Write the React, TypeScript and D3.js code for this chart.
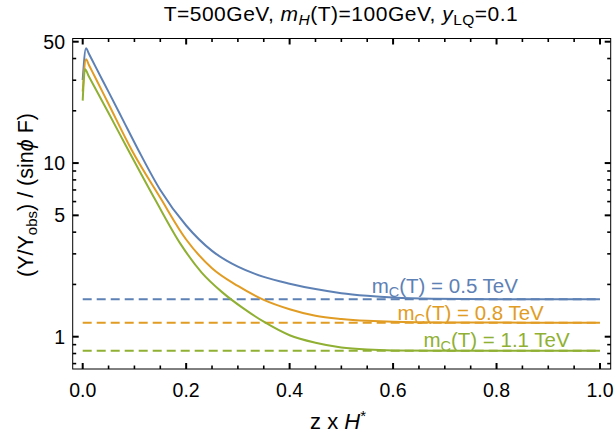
import { line, scaleLinear, scaleLog, curveMonotoneX } from "d3";

const blueX = [0, 0.0064, 0.012, 0.025, 0.05, 0.075, 0.1075, 0.15, 0.2, 0.25, 0.3, 0.35, 0.4, 0.45, 0.5, 0.55, 0.6, 0.675, 0.8, 1.0];
const blueY = [30.1, 45.9, 42.6, 35.8, 25.7, 18.4, 11.9, 7.0, 4.37, 3.12, 2.53, 2.21, 2.02, 1.88, 1.78, 1.72, 1.68, 1.654, 1.644, 1.642];
const orangeX = [0, 0.0064, 0.012, 0.025, 0.05, 0.0947, 0.15, 0.2, 0.25, 0.3, 0.35, 0.4, 0.45, 0.5, 0.55, 0.6, 0.7, 0.85, 1.0];
const orangeY = [25.8, 39.6, 36.7, 30.8, 21.9, 11.9, 6.31, 3.63, 2.48, 1.96, 1.63, 1.44, 1.32, 1.265, 1.234, 1.218, 1.208, 1.205, 1.204];
const greenX = [0, 0.0045, 0.012, 0.025, 0.05, 0.088, 0.14, 0.19, 0.23, 0.27, 0.31, 0.35, 0.4, 0.45, 0.5, 0.55, 0.6, 0.7, 1.0];
const greenY = [22.9, 34.7, 31.5, 26.7, 19.4, 11.9, 6.17, 3.39, 2.34, 1.8, 1.46, 1.22, 1.02, 0.923, 0.867, 0.843, 0.834, 0.831, 0.831];

const asymptotes = [1.642, 1.204, 0.831];
const colors = ["#5E81B5", "#E19C24", "#8FB032"];
const labelValues = ["0.5", "0.8", "1.1"];
const labelX = [0.7, 0.75, 0.8];
const labelY = [1.78, 1.25, 0.87];

const xMajor = [0, 0.2, 0.4, 0.6, 0.8, 1.0];
const xMinor = [0.05, 0.1, 0.15, 0.25, 0.3, 0.35, 0.45, 0.5, 0.55, 0.65, 0.7, 0.75, 0.85, 0.9, 0.95];
const yMajor = [1, 5, 10, 50];
const yMinor = [0.7, 0.8, 0.9, 2, 3, 4, 6, 7, 8, 9, 20, 30, 40];

const W = 616;
const H = 434;
const frame = { left: 72.7, right: 610.7, top: 38.5, bottom: 369 };

export default function App() {
  const x = scaleLinear().domain([0, 1]).range([82.7, 600]);
  const y = scaleLog().domain([1, 50]).range([336.7, 41.7]);

  const series = [
    { xs: blueX, ys: blueY },
    { xs: orangeX, ys: orangeY },
    { xs: greenX, ys: greenY },
  ];

  const path = line<[number, number]>()
    .x((d) => x(d[0]))
    .y((d) => y(d[1]))
    .curve(curveMonotoneX);

  const font = "Liberation Sans, Arial, sans-serif";

  return (
    <svg width={W} height={H} style={{ position: "absolute", left: 0, top: 0, background: "#fff" }}>
      <defs>
        <clipPath id="plot">
          <rect x={frame.left} y={frame.top} width={frame.right - frame.left} height={frame.bottom - frame.top} />
        </clipPath>
      </defs>

      <g clipPath="url(#plot)">
        {asymptotes.map((a, i) => (
          <line
            key={`dash-${i}`}
            x1={x(0)}
            x2={x(1)}
            y1={y(a)}
            y2={y(a)}
            stroke={colors[i]}
            strokeWidth={2}
            strokeDasharray="9,5"
          />
        ))}
        {series.map((s, i) => (
          <path
            key={`line-${i}`}
            d={path(s.xs.map((v, j) => [v, s.ys[j]] as [number, number])) || ""}
            fill="none"
            stroke={colors[i]}
            strokeWidth={2}
          />
        ))}
      </g>

      {labelValues.map((v, i) => (
        <text
          key={`lab-${i}`}
          x={x(labelX[i])}
          y={y(labelY[i])}
          textAnchor="middle"
          fontFamily={font}
          fontSize={20.5}
          fill={colors[i]}
        >
          m<tspan fontSize={14.5} dy={4}>C</tspan>
          <tspan dy={-4}>(T) = {v} TeV</tspan>
        </text>
      ))}

      {/* frame */}
      <rect
        x={frame.left}
        y={frame.top}
        width={frame.right - frame.left}
        height={frame.bottom - frame.top}
        fill="none"
        stroke="#000"
        strokeWidth={1}
      />

      {/* x ticks, bottom and top */}
      {xMajor.map((t) => (
        <g key={`xM-${t}`}>
          <line x1={x(t)} x2={x(t)} y1={frame.bottom} y2={frame.bottom - 6} stroke="#000" strokeWidth={2} />
          <line x1={x(t)} x2={x(t)} y1={frame.top} y2={frame.top + 6} stroke="#000" strokeWidth={2} />
          <text x={x(t)} y={397} textAnchor="middle" fontFamily={font} fontSize={19.5} fill="#000">
            {t.toFixed(1)}
          </text>
        </g>
      ))}
      {xMinor.map((t) => (
        <g key={`xm-${t}`}>
          <line x1={x(t)} x2={x(t)} y1={frame.bottom} y2={frame.bottom - 3.5} stroke="#000" strokeWidth={1.6} />
          <line x1={x(t)} x2={x(t)} y1={frame.top} y2={frame.top + 3.5} stroke="#000" strokeWidth={1.6} />
        </g>
      ))}

      {/* y ticks, left and right */}
      {yMajor.map((t) => (
        <g key={`yM-${t}`}>
          <line x1={frame.left} x2={frame.left + 6} y1={y(t)} y2={y(t)} stroke="#000" strokeWidth={2} />
          <line x1={frame.right} x2={frame.right - 6} y1={y(t)} y2={y(t)} stroke="#000" strokeWidth={2} />
          <text x={65} y={y(t) + 7} textAnchor="end" fontFamily={font} fontSize={19.5} fill="#000">
            {t}
          </text>
        </g>
      ))}
      {yMinor.map((t) => (
        <g key={`ym-${t}`}>
          <line x1={frame.left} x2={frame.left + 3.5} y1={y(t)} y2={y(t)} stroke="#000" strokeWidth={1.6} />
          <line x1={frame.right} x2={frame.right - 3.5} y1={y(t)} y2={y(t)} stroke="#000" strokeWidth={1.6} />
        </g>
      ))}

      {/* title */}
      <text x={341} y={21} textAnchor="middle" fontFamily={font} fontSize={21} letterSpacing={0.5} fill="#000">
        T=500GeV, <tspan fontStyle="italic">m</tspan>
        <tspan fontStyle="italic" fontSize={15.5} dy={4}>H</tspan>
        <tspan dy={-4}>(T)=100GeV, </tspan>
        <tspan fontStyle="italic">y</tspan>
        <tspan fontSize={15.5} dy={4}>LQ</tspan>
        <tspan dy={-4}>=0.1</tspan>
      </text>

      {/* x axis title */}
      <text x={338} y={429} textAnchor="middle" fontFamily={font} fontSize={22} fill="#000">
        z x <tspan fontStyle="italic">H</tspan>
        <tspan fontSize={15} dy={-8}>*</tspan>
      </text>

      {/* y axis title */}
      <text
        transform="translate(33,195) rotate(-90)"
        textAnchor="middle"
        fontFamily={font}
        fontSize={21.5}
        fill="#000"
      >
        (Y/Y<tspan fontSize={15} dy={4}>obs</tspan>
        <tspan dy={-4}>) / (sin</tspan>
        <tspan fontStyle="italic">ϕ</tspan>
        <tspan> F)</tspan>
      </text>
    </svg>
  );
}
